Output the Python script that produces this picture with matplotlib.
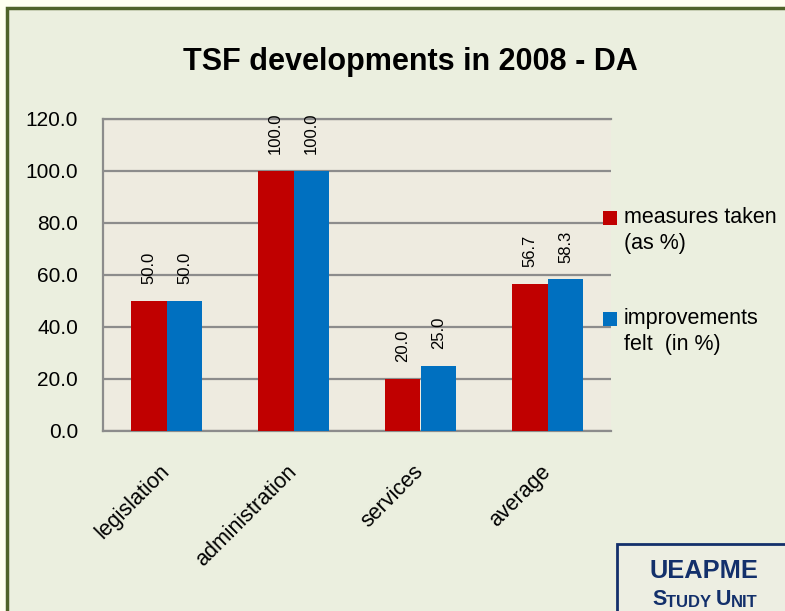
import matplotlib
matplotlib.use('Agg')
from matplotlib import pyplot as plt
from matplotlib.patches import Rectangle
import numpy as np

categories = ['legislation', 'administration', 'services', 'average']
measures_taken = [50.0, 100.0, 20.0, 56.7]
improvements_felt = [50.0, 100.0, 25.0, 58.3]
series_names = ['measures taken\n(as %)', 'improvements\nfelt  (in %)']
y_ticks = [0, 20, 40, 60, 80, 100, 120]

red = '#C00000'
blue = '#0070C0'
grid_col = '#8C8C8C'
navy = '#13306B'
plt.rcParams['font.family'] = ['Liberation Sans', 'DejaVu Sans']

W, H = 785, 611
fig = plt.figure(figsize=(W / 100, H / 100), dpi=100)
fig.patch.set_facecolor('#FFFFF0')

# green frame running off the right and bottom edges
fig.patches.append(Rectangle((6.5 / W, -0.05), 1.2, 1.05 - 8.5 / H, transform=fig.transFigure,
                             facecolor='#EBEFDF', edgecolor='#4F6228', linewidth=2.5, zorder=-5))

ax = fig.add_axes([103 / W, 1 - 431 / H, (611 - 103) / W, (431 - 119) / H])
ax.set_facecolor('#EEEBE0')

x = np.arange(len(categories))
bw = 0.283
b1 = ax.bar(x - bw / 2, measures_taken, bw, color=red, zorder=3)
b2 = ax.bar(x + bw / 2, improvements_felt, bw, color=blue, zorder=3)

for bars, vals in [(b1, measures_taken), (b2, improvements_felt)]:
    for r, v in zip(bars, vals):
        ax.annotate('%.1f' % v, (r.get_x() + r.get_width() / 2, v), xytext=(0, 12),
                    textcoords='offset points', rotation=90, ha='center', va='bottom',
                    fontsize=12)

ax.set_xlim(-0.5, len(categories) - 0.5)
ax.set_ylim(0, 120)
ax.set_yticks(y_ticks)
ax.set_yticklabels(['%.1f' % t for t in y_ticks], fontsize=15)
ax.set_xticks(x)
ax.set_xticklabels(categories, rotation=45, ha='right', va='center', rotation_mode='anchor',
                   fontsize=15.5)
ax.tick_params(axis='y', length=0, pad=18)
ax.tick_params(axis='x', length=0, pad=27)
ax.yaxis.grid(True, color=grid_col, linewidth=1.6, zorder=1)
ax.set_axisbelow(True)
for s in ['left', 'top', 'bottom']:
    ax.spines[s].set_color(grid_col)
    ax.spines[s].set_linewidth(1.6)
ax.spines['right'].set_visible(False)

fig.text(410 / W, 1 - 62 / H, 'TSF developments in 2008 - DA', ha='center', va='center',
         fontsize=22, fontweight='bold')

# legend
for i, (name, col) in enumerate(zip(series_names, [red, blue])):
    top = 211 + i * 101
    fig.patches.append(Rectangle((603 / W, 1 - (top + 14) / H), 14 / W, 14 / H,
                                 transform=fig.transFigure, facecolor=col, edgecolor='none'))
    fig.text(624 / W, 1 - (top - 4) / H, name, ha='left', va='top', fontsize=15.5,
             linespacing=1.3)

# study unit box
fig.patches.append(Rectangle((617 / W, -0.05), 0.3, 0.05 + 1 - 544 / H, transform=fig.transFigure,
                             facecolor='#EDEEE2', edgecolor=navy, linewidth=2, zorder=-4))
fig.text(704 / W, 1 - 578 / H, 'UEAPME', ha='center', va='baseline', fontsize=18.3,
         fontweight='bold', color=navy)
# small caps by hand
parts = [('S', 15.5), ('TUDY ', 12), ('U', 15.5), ('NIT', 12)]
prev = fig.text(652 / W, 1 - 605 / H, parts[0][0], ha='left', va='baseline',
                fontsize=parts[0][1], fontweight='bold', color=navy)
for txt, fs in parts[1:]:
    prev = ax.annotate(txt, xy=(1, 0), xycoords=prev, ha='left', va='bottom',
                       fontsize=fs, fontweight='bold', color=navy, annotation_clip=False)

fig.savefig('out.png', dpi=100, facecolor=fig.get_facecolor())
